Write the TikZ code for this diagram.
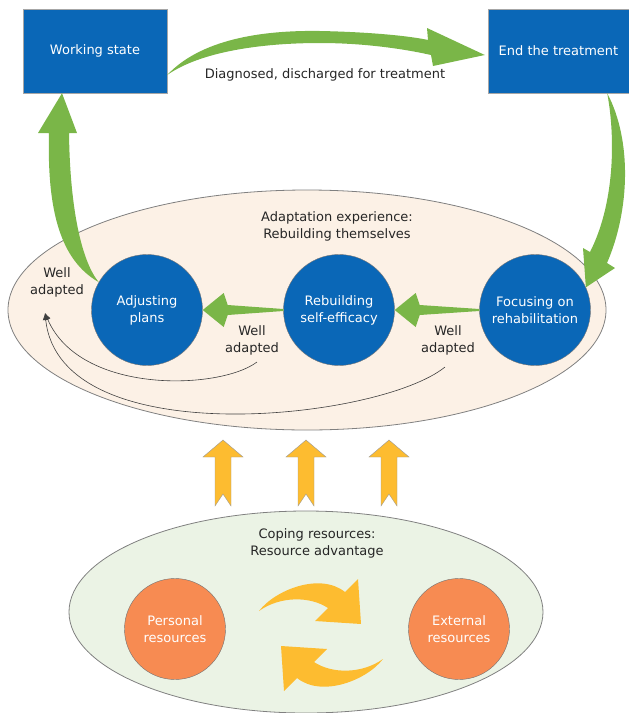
\documentclass[tikz,border=0pt]{standalone}
\usepackage{fontspec}
\setmainfont{DejaVu Sans}
\usetikzlibrary{shapes,arrows,arrows.meta,calc}
\definecolor{boxblue}{HTML}{0A67B7}
\definecolor{arrowgreen}{HTML}{7AB648}
\definecolor{arrowyellow}{HTML}{FDBC30}
\definecolor{resorange}{HTML}{F78B52}
\definecolor{adaptfill}{HTML}{FCF1E6}
\definecolor{copefill}{HTML}{EBF3E5}
\tikzstyle{statebox} = [rectangle, draw=gray!70, fill=boxblue, text=white,
    minimum width=144pt, minimum height=84pt, font=\fontsize{13}{17}\selectfont]
\tikzstyle{stage} = [circle, draw=black!55, fill=boxblue, text=white, align=center,
    minimum size=111pt, inner sep=0pt, font=\fontsize{13}{17}\selectfont]
\tikzstyle{resource} = [circle, draw=black!55, fill=resorange, text=white, align=center,
    minimum size=101pt, inner sep=0pt, font=\fontsize{13}{17}\selectfont]
\tikzstyle{field} = [ellipse, draw=gray, line width=0.8pt]
\tikzstyle{remark} = [align=center, text=black!85, font=\fontsize{13}{17}\selectfont]
\tikzstyle{line} = [draw, -{Latex[length=7pt,width=6pt]}, black!75, line width=0.6pt]
\tikzstyle{bigarrow} = [fill=arrowgreen]
\tikzstyle{uparrow} = [fill=arrowyellow, draw=gray!80, line width=0.4pt]
\tikzstyle{turnarrow} = [fill=arrowyellow]
\newcommand{\flatarrow}[2]{%
  \fill [bigarrow] ($(#2)+(0,-1)$) -- ($(#1)+(25,-5)$) -- ($(#1)+(21,-17)$) -- (#1)
    -- ($(#1)+(21,17)$) -- ($(#1)+(25,5)$) -- ($(#2)+(0,1)$) -- cycle;}
\begin{document}
\begin{tikzpicture}[x=1pt, y=-1pt, node distance=192pt]
    \useasboundingbox (0,0) rectangle (629,713);
    % Place nodes
    \node [field, fill=adaptfill, minimum width=598pt, minimum height=240pt] (adapt) at (307,310) {};
    \node [field, fill=copefill, minimum width=474pt, minimum height=202pt] (cope) at (306,612) {};

    \node [statebox] (work) at (95,51) {Working state};
    \node [statebox, minimum width=141pt] (endtr) at (558.5,51) {End the treatment};

    \node [stage] (adjust) at (147,310) {Adjusting\\plans};
    \node [stage, right of=adjust] (rebuild) {Rebuilding\\self-efficacy};
    \node [stage, right of=rebuild, node distance=196pt] (focus) {Focusing on\\rehabilitation};

    \node [remark] (diag) at (325,75) {Diagnosed, discharged for treatment};
    \node [remark] (adapttitle) at (337,226) {Adaptation experience:\\Rebuilding themselves};
    \node [remark] (wellleft) at (57,282) {Well\\adapted};
    \node [remark] (wellmid) at (252,340) {Well\\adapted};
    \node [remark] (wellright) at (448,340) {Well\\adapted};

    \node [remark] (copetitle) at (317,543) {Coping resources:\\Resource advantage};
    \node [resource] (personal) at (175,629) {Personal\\resources};
    \node [resource] (external) at (459,629) {External\\resources};

    \coordinate (welltip) at (45,313);
    \coordinate (c1) at (257,362);
    \coordinate (c2) at (445,367);

    % Draw edges
    \path [line] (c1) .. controls (220,390) and (80,395) .. (welltip);
    \path [line] (c2) .. controls (380,420) and (60,455) .. (welltip);

    \flatarrow{adjust.east}{rebuild.west}
    \flatarrow{rebuild.east}{focus.west}

    % big green arrows
    \coordinate (tailA) at ($(work.east)+(0,24)$);
    \fill [bigarrow] (tailA) .. controls (200,40) and (260,30) .. (320,31)
        .. controls (370,32) and (410,36) .. (428,40) -- (427,28) -- ($(endtr.west)+(-3,4)$)
        -- (433,66) -- (431,55) .. controls (400,48) and (360,43) .. (320,43)
        .. controls (260,43) and (200,52) .. (tailA) -- cycle;
    \coordinate (tailB) at ($(endtr.south east)+(-22,0)$);
    \fill [bigarrow] (tailB) .. controls (632,140) and (630,210) .. (607,263) -- (615,268)
        -- (focus.24) -- (583,248) -- (590,252) .. controls (614,205) and (616,140) .. (tailB) -- cycle;
    \coordinate (tailC) at (adjust.150);
    \fill [bigarrow] (tailC) .. controls (82,262) and (70,210) .. (69,133) -- (77,133)
        -- ($(work.south)+(-33,0)$) -- (38,133) -- (49,133) .. controls (47,210) and (60,260) .. (tailC) -- cycle;

    % yellow arrows
    \foreach \x in {223,306,389} {
        \filldraw [uparrow] (\x,440) -- (\x+20,457) -- (\x+8,457) -- (\x+8,506) -- (\x,494)
            -- (\x-8,506) -- (\x-8,457) -- (\x-20,457) -- cycle;
    }
    \fill [turnarrow] (259,611) .. controls (275,590) and (320,572) .. (345,592) -- (358,579)
        -- (361,624) -- (315,621) -- (328,608) .. controls (310,596) and (280,596) .. (259,611) -- cycle;
    \fill [turnarrow, rotate around={180:(321,635)}] (259,611) .. controls (275,590) and (320,572) .. (345,592)
        -- (358,579) -- (361,624) -- (315,621) -- (328,608) .. controls (310,596) and (280,596) .. (259,611) -- cycle;
\end{tikzpicture}
\end{document}
